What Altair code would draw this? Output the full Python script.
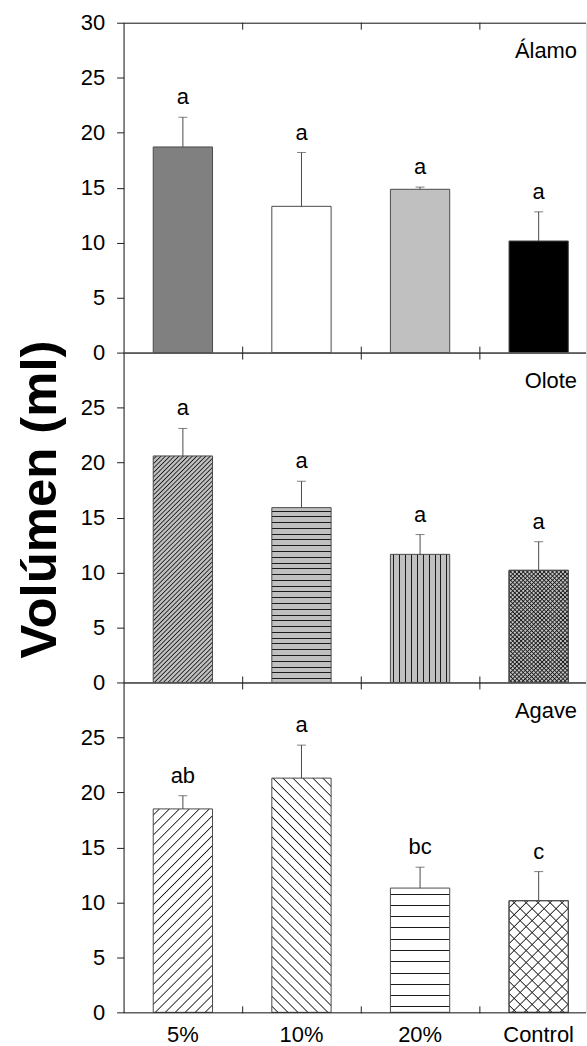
import altair as alt
import pandas as pd

# ---------------- data ----------------
categories = ["5%", "10%", "20%", "Control"]
panel_names = ["Álamo", "Olote", "Agave"]

alamo_mean = [18.7, 13.3, 14.85, 10.15]
alamo_err = [2.7, 4.9, 0.2, 2.65]
alamo_letters = ["a", "a", "a", "a"]

olote_mean = [20.6, 15.9, 11.65, 10.2]
olote_err = [2.5, 2.4, 1.8, 2.6]
olote_letters = ["a", "a", "a", "a"]

agave_mean = [18.5, 21.3, 11.3, 10.15]
agave_err = [1.2, 3.0, 1.9, 2.65]
agave_letters = ["ab", "a", "bc", "c"]

y_title = "Volúmen (ml)"
y_max = 30
y_ticks_top = [0, 5, 10, 15, 20, 25, 30]
y_ticks_other = [0, 5, 10, 15, 20, 25]

# ---------------- styling ----------------
H = 331
W = 464
STEP = 119
PAD_IN = 0.5
PAD_OUT = (W / STEP - (len(categories) - PAD_IN)) / 2
ALIGN = 0.25 / (2 * PAD_OUT)
BAR_W = STEP * (1 - PAD_IN)
PPU = H / y_max
FONT = "Liberation Sans"
FS = 22
STROKE = "#4a4a4a"
AXIS = "#1e1e1e"
LINE = "#1a1a1a"
GRAY = "#c0c0c0"
CLEAR = "rgba(26,26,26,0)"

styles = {
    "Álamo": [("solid", "#808080", 0), ("solid", "#ffffff", 0),
              ("solid", "#c0c0c0", 0), ("solid", "#000000", 0)],
    "Olote": [("fwd", GRAY, 4.5), ("horiz", GRAY, 5.8),
              ("vert", GRAY, 5.9), ("cross", GRAY, 4.2)],
    "Agave": [("fwd", "#ffffff", 10), ("back", "#ffffff", 10),
              ("horiz", "#ffffff", 11.3), ("cross", "#ffffff", 12)],
}


def make_stops(total, period, lw, bg, fg, phase, soft=False):
    out = [alt.GradientStop(offset=0, color=bg)]
    last = 0.0
    p = phase
    while p + lw < total:
        if soft:
            a = max(round(p / total, 5), last)
            m = max(round((p + lw / 2) / total, 5), a)
            b = max(round((p + lw) / total, 5), m)
            out += [alt.GradientStop(offset=a, color=bg),
                    alt.GradientStop(offset=m, color=fg),
                    alt.GradientStop(offset=b, color=bg)]
        else:
            a = max(round(p / total, 5), last)
            b = max(round((p + lw) / total, 5), a)
            out += [alt.GradientStop(offset=a, color=bg),
                    alt.GradientStop(offset=a, color=fg),
                    alt.GradientStop(offset=b, color=fg),
                    alt.GradientStop(offset=b, color=bg)]
        last = b
        p += period
    out.append(alt.GradientStop(offset=1, color=bg))
    return out


def gradient(kind, h, bg, period, fg=LINE):
    w = BAR_W
    if kind == "horiz":
        return alt.LinearGradient(gradient="linear", x1=0, y1=0, x2=0, y2=1,
                                  stops=make_stops(h, period, 1.0, bg, fg, period * 0.5))
    if kind == "vert":
        return alt.LinearGradient(gradient="linear", x1=0, y1=0, x2=1, y2=0,
                                  stops=make_stops(w, period, 1.0, bg, fg, period * 0.5))
    k = (w + h) / (w * w + h * h)
    if kind == "fwd":
        return alt.LinearGradient(gradient="linear", x1=0, y1=0, x2=k * w, y2=k * h,
                                  stops=make_stops(w + h, period, 2.4, bg, fg, period * 0.5, True))
    return alt.LinearGradient(gradient="linear", x1=0, y1=1, x2=k * w, y2=1 - k * h,
                              stops=make_stops(w + h, period, 2.4, bg, fg, period * 0.5, True))


def panel(idx, means, errs, letters, show_labels, y_vals, title):
    name = panel_names[idx]
    df = pd.DataFrame({
        "cat": categories,
        "mean": means,
        "top": [m + e for m, e in zip(means, errs)],
        "letter": letters,
    })
    xscale = alt.Scale(domain=categories, paddingInner=PAD_IN,
                       paddingOuter=PAD_OUT, align=ALIGN)
    yscale = alt.Scale(domain=[0, y_max], nice=False, zero=True)

    if show_labels:
        xaxis = alt.Axis(title=None, domain=False, ticks=False, tickSize=0,
                         labelPadding=12, labelFontSize=FS, labelFont=FONT,
                         labelColor="#000000", labelAngle=0)
    else:
        xaxis = None

    yargs = dict(values=y_vals, tickSize=7, labelPadding=12, labelFontSize=FS,
                 labelFont=FONT, labelColor="#000000", domainColor=AXIS,
                 tickColor=AXIS, grid=False, orient="left")
    if title:
        yaxis = alt.Axis(title=title, titleFont=FONT, titleFontSize=51,
                         titleFontWeight="bold", titleColor="#000000",
                         titleAngle=270, titleX=-68, titleY=147,
                         titleAlign="center", titleBaseline="alphabetic", **yargs)
    else:
        yaxis = alt.Axis(title=None, **yargs)

    X = alt.X("cat:N", scale=xscale, axis=xaxis)

    def Y(field):
        return alt.Y(field, scale=yscale, axis=yaxis)

    layers = []
    for i, cat in enumerate(categories):
        kind, bg, period = styles[name][i]
        h = means[i] * PPU
        base = alt.Chart(df).transform_filter(alt.datum.cat == cat)
        if kind == "solid":
            layers.append(base.mark_bar(fill=bg, stroke=STROKE, strokeWidth=1).encode(
                x=X, y=Y("mean:Q")))
        elif kind == "cross":
            layers.append(base.mark_bar(fill=gradient("fwd", h, bg, period),
                                        stroke=STROKE, strokeWidth=1).encode(
                x=X, y=Y("mean:Q")))
            layers.append(base.mark_bar(fill=gradient("back", h, CLEAR, period),
                                        stroke=STROKE, strokeWidth=1).encode(
                x=X, y=Y("mean:Q")))
        else:
            layers.append(base.mark_bar(fill=gradient(kind, h, bg, period),
                                        stroke=STROKE, strokeWidth=1).encode(
                x=X, y=Y("mean:Q")))

    base = alt.Chart(df)
    layers.append(base.mark_rule(color=STROKE, strokeWidth=1).encode(
        x=X, y=Y("mean:Q"), y2="top:Q"))
    layers.append(base.mark_tick(orient="horizontal", size=9, thickness=1,
                                 color=STROKE).encode(x=X, y=Y("top:Q")))
    layers.append(base.mark_text(dy=-13, baseline="alphabetic", font=FONT,
                                 fontSize=FS, color="#000000").encode(
        x=X, y=Y("top:Q"), text="letter:N"))

    one = alt.Chart(pd.DataFrame({"name": [name]}))
    layers.append(one.mark_text(align="right", baseline="alphabetic", font=FONT,
                                fontSize=FS, color="#000000").encode(
        x=alt.value(455), y=alt.value(35.5), text="name:N"))
    layers.append(one.mark_rule(color=AXIS, strokeWidth=1).encode(
        x=alt.value(0), x2=alt.value(W), y=alt.value(0.5)))
    layers.append(one.mark_rule(color=AXIS, strokeWidth=1).encode(
        x=alt.value(0), x2=alt.value(W), y=alt.value(H + 0.5)))

    # category-boundary ticks (midway between adjacent bands)
    bdf = alt.Chart(df[df["cat"] != categories[-1]])
    layers.append(bdf.mark_rule(color=AXIS, strokeWidth=1, xOffset=STEP / 2 + 0.5).encode(
        x=X, y=alt.value(0), y2=alt.value(7)))
    layers.append(bdf.mark_rule(color=AXIS, strokeWidth=1, xOffset=STEP / 2 + 0.5).encode(
        x=X, y=alt.value(H - 6), y2=alt.value(H + 1)))

    return alt.layer(*layers).properties(width=W, height=H)


p1 = panel(0, alamo_mean, alamo_err, alamo_letters, False, y_ticks_top, None)
p2 = panel(1, olote_mean, olote_err, olote_letters, False, y_ticks_other, y_title)
p3 = panel(2, agave_mean, agave_err, agave_letters, True, y_ticks_other, None)

chart = alt.vconcat(p1, p2, p3, spacing=0).properties(
    bounds="flush",
    padding={"left": 14, "top": 9, "right": 0, "bottom": 0},
).configure_view(stroke=None).configure(font=FONT)

chart.save("out.html", embed_options={"renderer": "svg", "actions": False})
